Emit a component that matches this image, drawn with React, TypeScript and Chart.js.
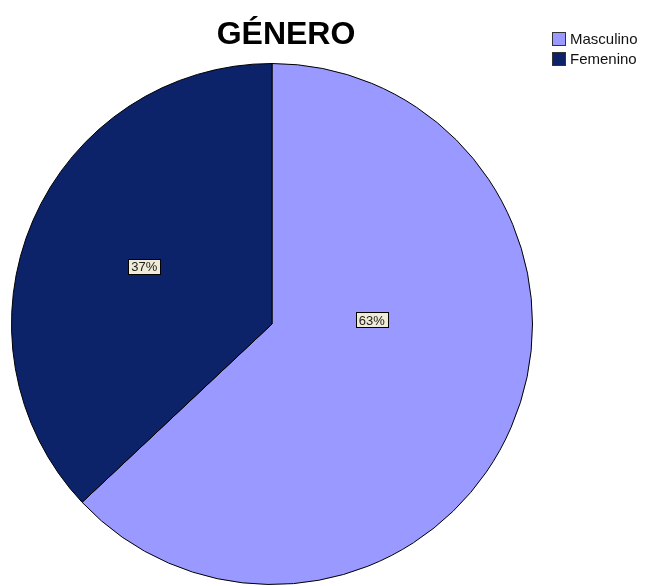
import React, { useEffect, useRef } from "react";
import { Chart, registerables } from "chart.js";

Chart.register(...registerables);

const titleText = "GÉNERO";
const categories = ["Masculino", "Femenino"];
const percentages = [63, 37];
const sliceColors = ["#9999FF", "#0C236A"];

const overlayPlugin = {
  id: "spssOverlay",
  afterDraw(chart: any, _args: any, opts: any) {
    const ctx = chart.ctx;
    ctx.save();
    // Title
    ctx.fillStyle = "#000";
    ctx.font = "bold 32px 'Liberation Sans', Arial, sans-serif";
    ctx.textAlign = "center";
    ctx.textBaseline = "alphabetic";
    ctx.fillText(titleText, opts.titleX, opts.titleY);

    // Legend
    ctx.font = "15px 'Liberation Sans', Arial, sans-serif";
    ctx.textAlign = "left";
    ctx.textBaseline = "middle";
    categories.forEach((name, i) => {
      const y = opts.legendY + i * opts.legendGap;
      ctx.fillStyle = sliceColors[i];
      ctx.fillRect(opts.legendX, y, 14, 14);
      ctx.strokeStyle = "#333";
      ctx.lineWidth = 1;
      ctx.strokeRect(opts.legendX + 0.5, y + 0.5, 13, 13);
      ctx.fillStyle = "#111";
      ctx.fillText(name, opts.legendX + 18, y + 7.5);
    });

    // Slice labels
    const meta = chart.getDatasetMeta(0);
    ctx.font = "13px 'Liberation Sans', Arial, sans-serif";
    ctx.textAlign = "center";
    ctx.textBaseline = "middle";
    meta.data.forEach((arc: any, i: number) => {
      const p = arc.getProps(["x", "y", "startAngle", "endAngle", "outerRadius"], true);
      const mid = (p.startAngle + p.endAngle) / 2 + (opts.angleShift[i] * Math.PI) / 180;
      const r = p.outerRadius * opts.radiusFrac[i];
      const cx = p.x + Math.cos(mid) * r;
      const cy = p.y + Math.sin(mid) * r;
      const label = percentages[i] + "%";
      const w = ctx.measureText(label).width + 6;
      const h = 15;
      const bx = Math.round(cx - w / 2) + 0.5;
      const by = Math.round(cy - h / 2) + 0.5;
      ctx.fillStyle = "#EFEBD6";
      ctx.fillRect(bx, by, w, h);
      ctx.strokeStyle = "#000";
      ctx.lineWidth = 1;
      ctx.strokeRect(bx, by, w, h);
      ctx.fillStyle = "#222";
      ctx.fillText(label, cx, cy + 1);
    });
    ctx.restore();
  },
};

export default function App() {
  const ref = useRef<HTMLCanvasElement | null>(null);
  useEffect(() => {
    if (!ref.current) return;
    const chart = new Chart(ref.current, {
      type: "pie",
      data: {
        labels: categories,
        datasets: [
          {
            data: percentages,
            backgroundColor: sliceColors,
            borderColor: "#000",
            borderWidth: 1,
          },
        ],
      },
      options: {
        responsive: false,
        animation: false,
        layout: { padding: { left: 11, right: 112, top: 63, bottom: 1 } },
        plugins: {
          legend: { display: false },
          title: { display: false },
          tooltip: { enabled: false },
          spssOverlay: {
            titleX: 286,
            titleY: 44,
            legendX: 552,
            legendY: 32,
            legendGap: 20,
            angleShift: [-25.7, 1],
            radiusFrac: [0.383, 0.538],
          },
        } as any,
      },
      plugins: [overlayPlugin],
    });
    return () => chart.destroy();
  }, []);
  return (
    <div style={{ position: "absolute", left: 0, top: 0, width: 645, height: 586, background: "#fff" }}>
      <canvas ref={ref} width={645} height={586} />
    </div>
  );
}
